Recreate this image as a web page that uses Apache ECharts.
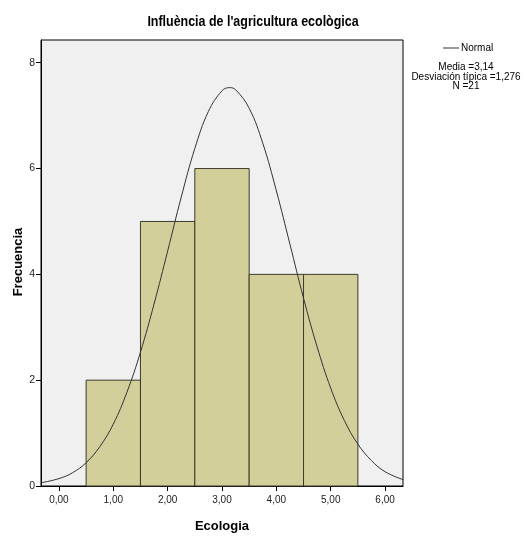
<!DOCTYPE html>
<html>
<head>
<meta charset="utf-8">
<script src="https://cdn.jsdelivr.net/npm/echarts@6/dist/echarts.min.js"></script>
<style>
html,body{margin:0;padding:0;background:#fff;}
#c{width:523px;height:537px;}
</style>
</head>
<body>
<div id="c"></div>
<script>
// Histogram bins
var binStart = [0.5, 1.5, 2.5, 3.5, 4.5];
var binEnd   = [1.5, 2.5, 3.5, 4.5, 5.5];
var counts   = [2, 5, 6, 4, 4];

// Normal curve
var curveX = [-0.33, 0, 0.25, 0.5, 0.75, 1, 1.25, 1.5, 1.75, 2, 2.25, 2.5, 2.75, 3, 3.14, 3.25, 3.5, 3.75, 4, 4.25, 4.5, 4.75, 5, 5.25, 5.5, 5.75, 6, 6.33];
var curveY = [0.06, 0.14, 0.25, 0.44, 0.74, 1.17, 1.77, 2.53, 3.44, 4.44, 5.46, 6.38, 7.08, 7.47, 7.53, 7.49, 7.14, 6.48, 5.58, 4.57, 3.55, 2.63, 1.85, 1.24, 0.79, 0.48, 0.27, 0.12];

// Axis ticks
var xTicks = [0, 1, 2, 3, 4, 5, 6];
var xTickLabels = ['0,00', '1,00', '2,00', '3,00', '4,00', '5,00', '6,00'];
var yTicks = [0, 2, 4, 6, 8];
var yTickLabels = ['0', '2', '4', '6', '8'];

var title = "Influència de l'agricultura ecològica";
var xName = 'Ecologia';
var yName = 'Frecuencia';
var legendLines = ['Media =3,14', 'Desviación típica =1,276', 'N =21'];

var chart = echarts.init(document.getElementById('c'), null, {renderer: 'canvas'});

var histData = binStart.map(function (s, i) { return [s, binEnd[i], counts[i]]; });
var curveData = curveX.map(function (x, i) { return [x, curveY[i]]; });

var sans = "'Liberation Sans', Arial, sans-serif";

var graphics = [
  {type: 'text', x: 253, y: 22, scaleX: 0.83, style: {text: title, font: 'bold 15px ' + sans, fill: '#000', align: 'center', verticalAlign: 'middle'}},
  {type: 'text', x: 222, y: 526, style: {text: xName, font: 'bold 13px ' + sans, fill: '#000', align: 'center', verticalAlign: 'middle'}},
  {type: 'text', x: 18, y: 262, rotation: Math.PI / 2, style: {text: yName, font: 'bold 13px ' + sans, fill: '#000', align: 'center', verticalAlign: 'middle'}},
  {type: 'line', shape: {x1: 443, y1: 48, x2: 459, y2: 48}, style: {stroke: '#333', lineWidth: 1}},
  {type: 'text', x: 461, y: 48, style: {text: 'Normal', font: '10px ' + sans, fill: '#000', verticalAlign: 'middle'}}
];
legendLines.forEach(function (t, i) {
  graphics.push({type: 'text', x: 466, y: 67.5 + i * 9.6, style: {text: t, font: '10px ' + sans, fill: '#000', align: 'center', verticalAlign: 'middle'}});
});

chart.setOption({
  animation: false,
  backgroundColor: '#fff',
  grid: {left: 41, top: 40, right: 120, bottom: 51, show: true, backgroundColor: '#f0f0f0', borderColor: '#000', borderWidth: 1},
  xAxis: {
    type: 'value', min: -0.33, max: 6.33,
    axisLine: {show: true, onZero: false, lineStyle: {color: '#000', width: 1}},
    axisTick: {show: true, length: 5, lineStyle: {color: '#000'}, customValues: xTicks},
    axisLabel: {show: true, customValues: xTicks, color: '#222', fontSize: 10, fontFamily: sans, margin: 9,
      formatter: function (v) { var i = xTicks.indexOf(v); return i >= 0 ? xTickLabels[i] : ''; }},
    splitLine: {show: false}
  },
  yAxis: {
    type: 'value', min: 0, max: 8.43,
    axisLine: {show: true, onZero: false, lineStyle: {color: '#000', width: 1}},
    axisTick: {show: true, length: 5, lineStyle: {color: '#000'}, customValues: yTicks},
    axisLabel: {show: true, customValues: yTicks, color: '#222', fontSize: 10.5, fontFamily: sans, margin: 6,
      formatter: function (v) { var i = yTicks.indexOf(v); return i >= 0 ? yTickLabels[i] : ''; }},
    splitLine: {show: false}
  },
  graphic: graphics,
  series: [
    {
      type: 'custom',
      data: histData,
      encode: {x: [0, 1], y: 2},
      z: 2,
      renderItem: function (params, api) {
        var p0 = api.coord([api.value(0), api.value(2)]);
        var p1 = api.coord([api.value(1), 0]);
        return {
          type: 'rect',
          shape: {x: p0[0], y: p0[1], width: p1[0] - p0[0], height: p1[1] - p0[1]},
          style: {fill: '#d3cf9b', stroke: '#3c3a2c', lineWidth: 1}
        };
      }
    },
    {
      type: 'line',
      data: curveData,
      smooth: 0.4,
      showSymbol: false,
      symbol: 'none',
      z: 3,
      lineStyle: {color: '#333', width: 1}
    }
  ]
});
</script>
</body>
</html>
